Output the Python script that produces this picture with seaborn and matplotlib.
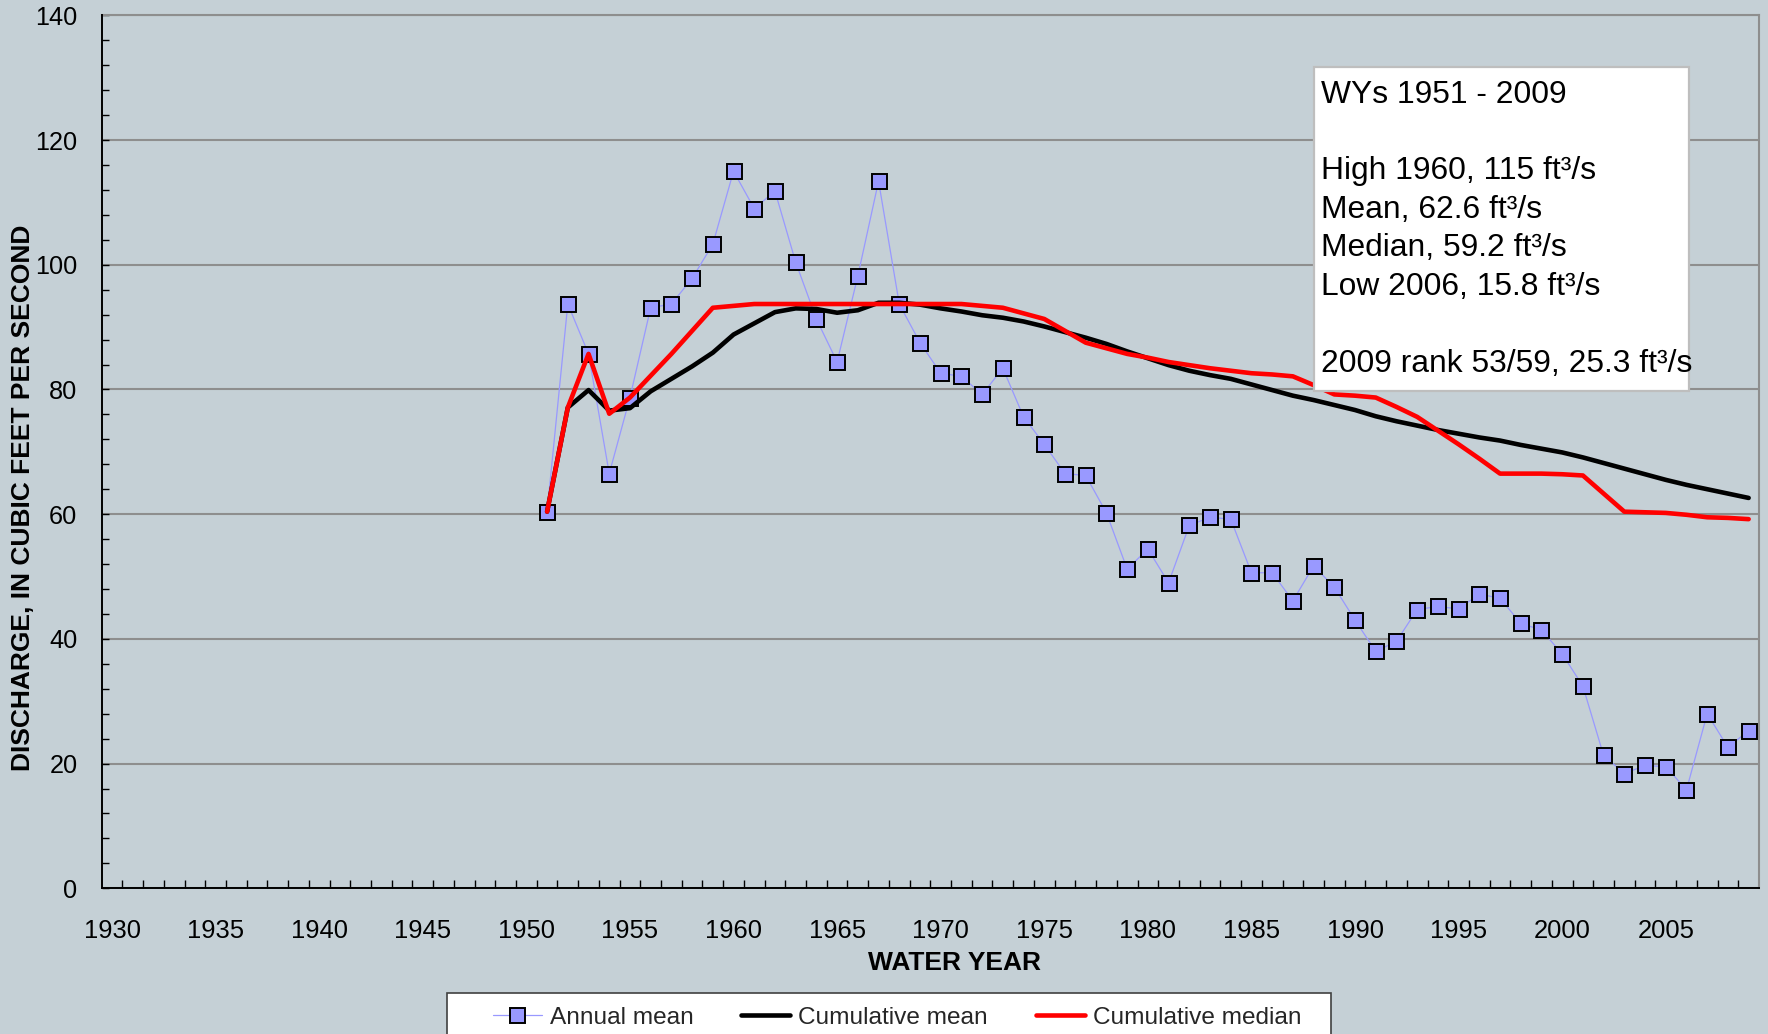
import numpy as np
import pandas as pd
import matplotlib
matplotlib.use("Agg")
import matplotlib.pyplot as plt
from matplotlib.ticker import MultipleLocator, FixedLocator, NullFormatter
from matplotlib.lines import Line2D
from matplotlib.patches import Rectangle
import seaborn as sns

# ---- data -------------------------------------------------------------
years = list(range(1951, 2010))

annual_mean = [
    60.4, 93.7, 85.7, 66.5, 78.7, 93.1, 93.7, 97.8, 103.3, 115.0,
    109.0, 111.8, 100.4, 91.3, 84.4, 98.2, 113.4, 93.7, 87.5, 82.6,
    82.1, 79.2, 83.4, 75.6, 71.2, 66.5, 66.2, 60.2, 51.2, 54.4,
    49.0, 58.2, 59.5, 59.2, 50.6, 50.6, 46.1, 51.7, 48.3, 43.0,
    38.0, 39.6, 44.7, 45.2, 44.8, 47.2, 46.5, 42.5, 41.4, 37.6,
    32.4, 21.3, 18.4, 19.7, 19.5, 15.8, 28.0, 22.6, 25.3,
]

cumulative_mean = [
    60.4, 77.1, 79.9, 76.6, 77.0, 79.7, 81.7, 83.7, 85.9, 88.8,
    90.6, 92.4, 93.0, 92.9, 92.3, 92.7, 93.9, 93.9, 93.6, 93.0,
    92.5, 91.9, 91.5, 90.9, 90.1, 89.2, 88.3, 87.3, 86.1, 85.0,
    83.9, 83.0, 82.3, 81.7, 80.8, 79.9, 79.0, 78.3, 77.5, 76.7,
    75.7, 74.9, 74.2, 73.5, 72.9, 72.3, 71.8, 71.1, 70.5, 69.9,
    69.1, 68.2, 67.3, 66.4, 65.5, 64.7, 64.0, 63.3, 62.6,
]

cumulative_median = [
    60.4, 77.1, 85.7, 76.1, 78.7, 82.2, 85.7, 89.4, 93.1, 93.4,
    93.7, 93.7, 93.7, 93.7, 93.7, 93.7, 93.7, 93.7, 93.7, 93.7,
    93.7, 93.4, 93.1, 92.2, 91.3, 89.4, 87.5, 86.6, 85.7, 85.1,
    84.4, 83.9, 83.4, 83.0, 82.6, 82.4, 82.1, 80.7, 79.2, 79.0,
    78.7, 77.2, 75.6, 73.4, 71.2, 68.9, 66.5, 66.5, 66.5, 66.4,
    66.2, 63.3, 60.4, 60.3, 60.2, 59.9, 59.5, 59.4, 59.2,
]

x_tick_years = [1930, 1935, 1940, 1945, 1950, 1955, 1960, 1965, 1970,
                1975, 1980, 1985, 1990, 1995, 2000, 2005]
y_tick_values = [0, 20, 40, 60, 80, 100, 120, 140]

series_labels = ["Annual mean", "Cumulative mean", "Cumulative median"]
summary_lines = [
    "WYs 1951 - 2009",
    "High 1960, 115 ft\u00b3/s",
    "Mean, 62.6 ft\u00b3/s",
    "Median, 59.2 ft\u00b3/s",
    "Low 2006, 15.8 ft\u00b3/s",
    "2009 rank 53/59, 25.3 ft\u00b3/s",
]

df = pd.DataFrame({
    "year": years,
    "annual": annual_mean,
    "cum_mean": cumulative_mean,
    "cum_median": cumulative_median,
})

# ---- style ------------------------------------------------------------
BG = "#C5D0D6"
GRID = "#8E8E8E"
sns.set_theme(style="ticks", rc={"axes.facecolor": BG, "figure.facecolor": BG})
plt.rcParams["font.family"] = ["Liberation Sans", "DejaVu Sans"]

W, H = 1768, 1034
fig = plt.figure(figsize=(W / 100, H / 100), dpi=100, facecolor=BG)

ax_l, ax_r, ax_t, ax_b = 101.7, 1759.0, 15.3, 888.3
ax = fig.add_axes([ax_l / W, 1 - ax_b / H, (ax_r - ax_l) / W, (ax_b - ax_t) / H])
ax.set_facecolor(BG)

# ---- series -----------------------------------------------------------
sns.lineplot(data=df, x="year", y="annual", ax=ax, color="#9999FF",
             linewidth=0.9, marker="s", markersize=10.8,
             markerfacecolor="#9999FF", markeredgecolor="black",
             markeredgewidth=1.4, errorbar=None, zorder=3)
sns.lineplot(data=df, x="year", y="cum_mean", ax=ax, color="black",
             linewidth=3.3, errorbar=None, zorder=4)
sns.lineplot(data=df, x="year", y="cum_median", ax=ax, color="#FF0000",
             linewidth=3.3, errorbar=None, zorder=5)

# ---- axes -------------------------------------------------------------
ax.set_xlim(1929.5, 2009.5)
ax.set_ylim(0, 140)
ax.set_xlabel("")
ax.set_ylabel("")

ax.xaxis.set_major_locator(FixedLocator(x_tick_years))
ax.set_xticklabels([str(y) for y in x_tick_years])
ax.xaxis.set_minor_locator(FixedLocator(np.arange(1930.5, 2009.0, 1.0)))
ax.xaxis.set_minor_formatter(NullFormatter())
ax.tick_params(axis="x", which="major", length=0, pad=22, labelsize=18.4,
               colors="black")
ax.tick_params(axis="x", which="minor", direction="in", length=5.5,
               width=1.0, color="black")

ax.yaxis.set_major_locator(FixedLocator(y_tick_values))
ax.yaxis.set_minor_locator(MultipleLocator(4))
ax.tick_params(axis="y", which="major", direction="in", length=5.0,
               width=1.0, pad=17.5, labelsize=18.2, colors="black")
ax.tick_params(axis="y", which="minor", direction="in", length=5.0,
               width=1.0, color="black")

ax.yaxis.grid(True, which="major", color=GRID, linewidth=1.5, zorder=0)
ax.set_axisbelow(True)

for side in ("left", "bottom"):
    ax.spines[side].set_color("black")
    ax.spines[side].set_linewidth(1.4)
    ax.spines[side].set_zorder(6)
for side in ("top", "right"):
    ax.spines[side].set_color(GRID)
    ax.spines[side].set_linewidth(1.5)

# ---- axis titles --------------------------------------------------------
fig.text(23.5 / W, 1 - 498 / H, "DISCHARGE, IN CUBIC FEET PER SECOND",
         rotation=90, ha="center", va="center", fontsize=19,
         fontweight="bold", color="black")
fig.text(954.5 / W, 1 - 963.5 / H, "WATER YEAR", ha="center", va="center",
         fontsize=19, fontweight="bold", color="black")

# ---- summary box --------------------------------------------------------
def to_ax_x(px):
    return (px - ax_l) / (ax_r - ax_l)


def to_ax_y(py):
    return (ax_b - py) / (ax_b - ax_t)


box_x0, box_x1, box_y0, box_y1 = 1314.0, 1689.3, 67.5, 390.7
ax.add_patch(Rectangle((to_ax_x(box_x0), to_ax_y(box_y1)),
                       to_ax_x(box_x1) - to_ax_x(box_x0),
                       to_ax_y(box_y0) - to_ax_y(box_y1),
                       transform=ax.transAxes, facecolor="white",
                       edgecolor="#BEBEBE", linewidth=1.6, zorder=7))
baselines = [102.7, 179.3, 217.7, 256.4, 295.0, 371.7]
for text, base in zip(summary_lines, baselines):
    ax.text(to_ax_x(1320.7), to_ax_y(base), text, transform=ax.transAxes,
            ha="left", va="baseline", fontsize=22.9, color="black", zorder=8)

# ---- legend -------------------------------------------------------------
fig.patches.append(Rectangle((446.5 / W, -0.02), (1330.6 - 446.5) / W,
                             1 - 992.7 / H + 0.02, transform=fig.transFigure,
                             facecolor="white", edgecolor="#404040",
                             linewidth=1.2, zorder=1))
handles = [
    Line2D([], [], color="#9999FF", linewidth=0.9, marker="s",
           markersize=10.8, markerfacecolor="#9999FF",
           markeredgecolor="black", markeredgewidth=1.4),
    Line2D([], [], color="black", linewidth=3.3),
    Line2D([], [], color="#FF0000", linewidth=3.3),
]
leg = fig.legend(handles, series_labels, loc="center left",
                 bbox_to_anchor=(493 / W, 1 - 1018 / H), ncol=3,
                 frameon=False, fontsize=17.6, handlelength=2.0,
                 handletextpad=0.33, columnspacing=1.95, borderpad=0,
                 borderaxespad=0)
leg.set_zorder(2)

fig.savefig("out.png", dpi=100, facecolor=BG)
